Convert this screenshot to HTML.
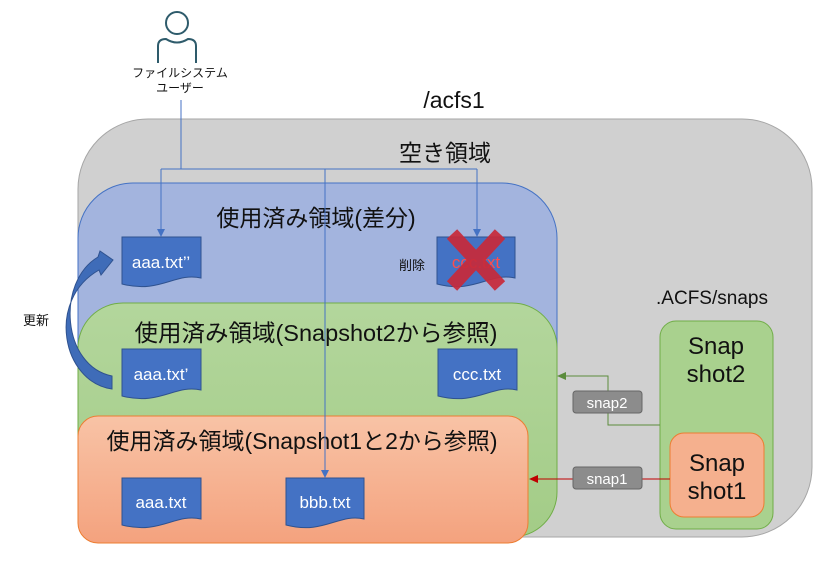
<!DOCTYPE html>
<html><head><meta charset="utf-8"><style>
html,body{margin:0;padding:0;background:#fff;}
svg{display:block;}
text{font-family:"Liberation Sans","Noto Sans CJK JP",sans-serif;}
</style></head><body>
<svg width="840" height="573" viewBox="0 0 840 573" xmlns="http://www.w3.org/2000/svg">
<defs>
<linearGradient id="og" x1="0" y1="0" x2="0" y2="1"><stop offset="0" stop-color="#f8c3a6"/><stop offset="1" stop-color="#f4a27e"/></linearGradient>
<linearGradient id="gg" x1="0" y1="0" x2="0" y2="1"><stop offset="0" stop-color="#b3d69c"/><stop offset="1" stop-color="#a3cc87"/></linearGradient>
</defs>
<rect x="78" y="119" width="734" height="418" rx="70" fill="#d0d0d0" stroke="#a6a6a6" stroke-width="1"/>
<text x="454" y="108" font-size="23" text-anchor="middle" fill="#111">/acfs1</text>
<text x="445" y="161" font-size="23" text-anchor="middle" fill="#111">空き領域</text>
<rect x="78" y="183" width="479" height="354" rx="55" fill="#a3b4de" stroke="#4472c4" stroke-width="1"/>
<text x="316" y="226" font-size="23" text-anchor="middle" fill="#111">使用済み領域(差分)</text>
<rect x="78" y="303" width="479" height="234" rx="45" fill="url(#gg)" stroke="#70ad47" stroke-width="1"/>
<text x="316" y="341" font-size="23.5" text-anchor="middle" fill="#111">使用済み領域(Snapshot2から参照)</text>
<rect x="78" y="416" width="450" height="127" rx="20" fill="url(#og)" stroke="#ed7d31" stroke-width="1"/>
<text x="302" y="449" font-size="23" text-anchor="middle" fill="#111">使用済み領域(Snapshot1と2から参照)</text>
<rect x="660" y="321" width="113" height="208" rx="16" fill="#a9d18e" stroke="#70ad47" stroke-width="1"/>
<text x="716" y="354" font-size="24" text-anchor="middle" fill="#111">Snap</text>
<text x="716" y="382" font-size="24" text-anchor="middle" fill="#111">shot2</text>
<rect x="670" y="433" width="94" height="84" rx="14" fill="#f5b08e" stroke="#ed7d31" stroke-width="1"/>
<text x="717" y="471" font-size="24" text-anchor="middle" fill="#111">Snap</text>
<text x="717" y="499" font-size="24" text-anchor="middle" fill="#111">shot1</text>
<text x="712" y="304" font-size="19" text-anchor="middle" fill="#111">.ACFS/snaps</text>
<polyline points="660,425 608,425 608,376 565,376" fill="none" stroke="#5b8c3c" stroke-width="1"/>
<path d="M557,376 L566,372 L566,380 Z" fill="#5b8c3c"/>
<polyline points="670,479 538,479" fill="none" stroke="#c00000" stroke-width="1"/>
<path d="M529,479 L538,475 L538,483 Z" fill="#c00000"/>
<rect x="573" y="391" width="69" height="22" rx="3" fill="#8c8c8c" stroke="#666" stroke-width="1"/>
<text x="607" y="408" font-size="15" text-anchor="middle" fill="#fff">snap2</text>
<rect x="573" y="467" width="69" height="22" rx="3" fill="#8c8c8c" stroke="#666" stroke-width="1"/>
<text x="607" y="484" font-size="15" text-anchor="middle" fill="#fff">snap1</text>
<g fill="#4472c4" stroke="#2f528f" stroke-width="1">
<path d="M122,237 H201 V278 C175,272 160,294 122,284 Z"/>
<path d="M437,237 H515 V278 C490,272 475,294 437,284 Z"/>
<path d="M122,349 H201 V390 C175,384 160,406 122,396 Z"/>
<path d="M438,349 H517 V390 C492,384 477,406 438,396 Z"/>
<path d="M122,478 H201 V519 C175,513 160,535 122,525 Z"/>
<path d="M286,478 H364 V519 C339,513 324,535 286,525 Z"/>
</g>
<g fill="#fff" font-size="17" text-anchor="middle">
<text x="161" y="268">aaa.txt’’</text>
<text x="476" y="268" fill="#ff4d4d">ccc.txt</text>
<text x="161" y="380">aaa.txt’</text>
<text x="477" y="380">ccc.txt</text>
<text x="161" y="508">aaa.txt</text>
<text x="325" y="508">bbb.txt</text>
</g>
<g stroke="#c82a3a" stroke-width="14" opacity="0.92">
<line x1="452" y1="234" x2="500" y2="286"/>
<line x1="500" y1="234" x2="452" y2="286"/>
</g>
<text x="412" y="270" font-size="13" text-anchor="middle" fill="#111">削除</text>
<circle cx="177" cy="23" r="11" fill="none" stroke="#2e5b6b" stroke-width="2"/>
<path d="M158,63 V46 Q158,39 166,39 Q177,46 188,39 Q196,39 196,46 V63" fill="none" stroke="#2e5b6b" stroke-width="2"/>
<text x="180" y="77" font-size="12" text-anchor="middle" fill="#111">ファイルシステム</text>
<text x="180" y="92" font-size="12" text-anchor="middle" fill="#111">ユーザー</text>
<g fill="none" stroke="#4472c4" stroke-width="1">
<polyline points="181,100 181,169"/>
<polyline points="161,169 477,169"/>
<polyline points="161,169 161,229"/>
<polyline points="477,169 477,229"/>
<polyline points="325,169 325,470"/>
</g>
<path d="M157,229 L165,229 L161,237 Z" fill="#4472c4"/>
<path d="M473,229 L481,229 L477,237 Z" fill="#4472c4"/>
<path d="M321,470 L329,470 L325,478 Z" fill="#4472c4"/>
<path d="M112,389 C62,382 46,300 99,270 L101,275 L113,260 L100,251 L98,257 C56,282 62,366 112,376 Z" fill="#3f6cb8" stroke="#2f528f" stroke-width="1"/>
<text x="36" y="325" font-size="13" text-anchor="middle" fill="#111">更新</text>
</svg>
</body></html>
